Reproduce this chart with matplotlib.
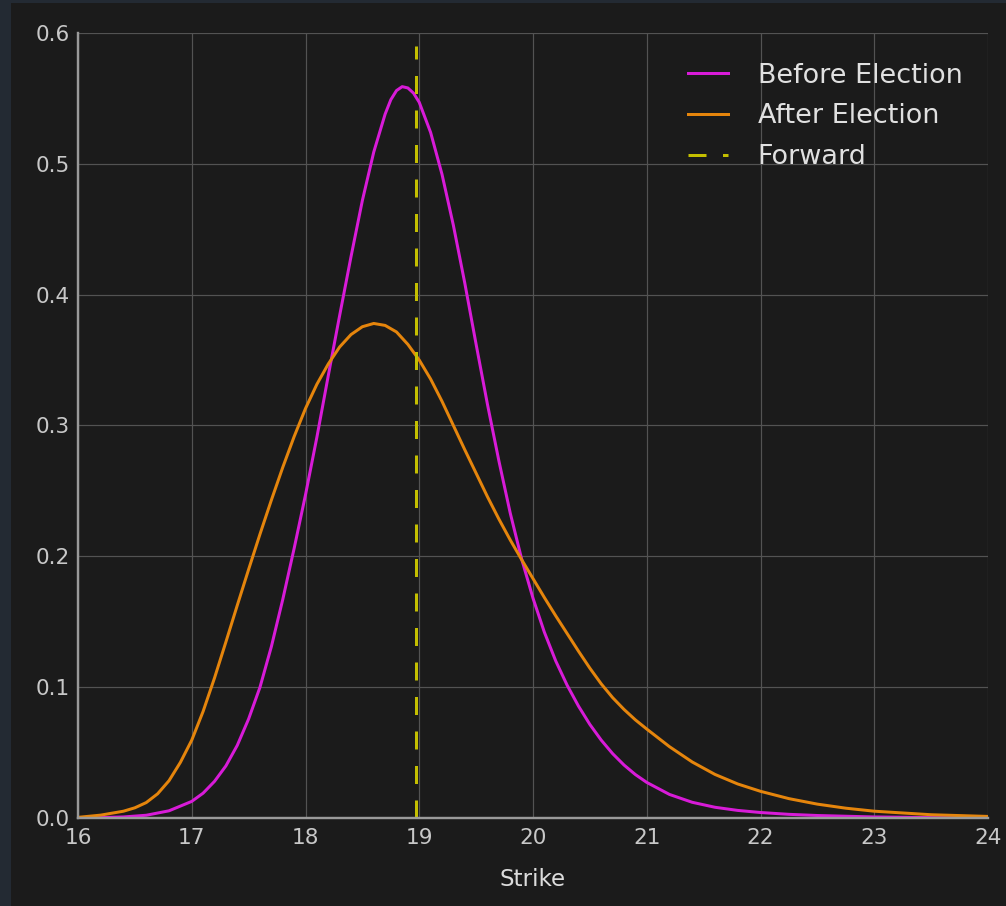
import numpy as np
import matplotlib.pyplot as plt
from matplotlib.patches import Rectangle

# strike grid and implied densities
strike_before = [16.0, 16.2, 16.4, 16.6, 16.8, 17.0, 17.1, 17.2, 17.3, 17.4, 17.5,
                 17.6, 17.7, 17.8, 17.9, 18.0, 18.1, 18.2, 18.3, 18.4, 18.5, 18.6,
                 18.7, 18.75, 18.8, 18.85, 18.9, 18.95, 19.0, 19.1, 19.2, 19.3, 19.4,
                 19.5, 19.6, 19.7, 19.8, 19.9, 20.0, 20.1, 20.2, 20.3, 20.4, 20.5,
                 20.6, 20.7, 20.8, 20.9, 21.0, 21.2, 21.4, 21.6, 21.8, 22.0, 22.25,
                 22.5, 23.0, 23.5, 24.0]
density_before = [0.0, 0.0003, 0.0008, 0.0021, 0.0055, 0.0127, 0.0190, 0.0280,
                  0.0398, 0.0555, 0.0757, 0.1000, 0.1310, 0.1670, 0.2060, 0.2470,
                  0.2910, 0.3380, 0.3840, 0.4290, 0.4720, 0.5090, 0.5380, 0.5490,
                  0.5560, 0.5590, 0.5580, 0.5540, 0.5470, 0.5240, 0.4920, 0.4530,
                  0.4090, 0.3620, 0.3160, 0.2730, 0.2330, 0.1980, 0.1680, 0.1420,
                  0.1200, 0.1015, 0.0855, 0.0715, 0.0595, 0.0492, 0.0405, 0.0332,
                  0.0272, 0.0180, 0.0120, 0.0082, 0.0058, 0.0042, 0.0028, 0.0019,
                  0.0008, 0.0003, 0.0001]

strike_after = [16.0, 16.2, 16.4, 16.5, 16.6, 16.7, 16.8, 16.9, 17.0, 17.1, 17.2,
                17.3, 17.4, 17.5, 17.6, 17.7, 17.8, 17.9, 18.0, 18.1, 18.2, 18.3,
                18.4, 18.5, 18.6, 18.7, 18.8, 18.9, 19.0, 19.1, 19.2, 19.3, 19.4,
                19.5, 19.6, 19.7, 19.8, 19.9, 20.0, 20.1, 20.2, 20.3, 20.4, 20.5,
                20.6, 20.7, 20.8, 20.9, 21.0, 21.2, 21.4, 21.6, 21.8, 22.0, 22.25,
                22.5, 22.75, 23.0, 23.5, 24.0]
density_after = [0.0005, 0.0022, 0.0052, 0.0078, 0.0118, 0.0185, 0.0285, 0.0425,
                 0.0595, 0.0815, 0.1070, 0.1345, 0.1625, 0.1900, 0.2170, 0.2430,
                 0.2680, 0.2915, 0.3130, 0.3315, 0.3470, 0.3600, 0.3695, 0.3755,
                 0.3780, 0.3765, 0.3715, 0.3620, 0.3500, 0.3355, 0.3185, 0.3000,
                 0.2815, 0.2635, 0.2455, 0.2285, 0.2125, 0.1975, 0.1830, 0.1685,
                 0.1545, 0.1410, 0.1275, 0.1145, 0.1025, 0.0920, 0.0830, 0.0750,
                 0.0680, 0.0545, 0.0428, 0.0333, 0.0260, 0.0204, 0.0148, 0.0106,
                 0.0075, 0.0052, 0.0025, 0.0012]

forward = 18.97
forward_top = 0.59

bg = '#1b1b1b'
fig = plt.figure(figsize=(1006 / 144, 906 / 144), dpi=144, facecolor=bg)
# dark slate frame on the left / top edge of the screenshot
fig.patches.append(Rectangle((0, 0), 11 / 1006, 1, transform=fig.transFigure,
                             facecolor='#232a33', edgecolor='none'))
fig.patches.append(Rectangle((0, 1 - 3 / 906), 1, 3 / 906, transform=fig.transFigure,
                             facecolor='#232a33', edgecolor='none'))

ax = fig.add_axes([78 / 1006, 1 - 818 / 906, 910 / 1006, 785 / 906], facecolor=bg)

ax.plot(strike_before, density_before, color='#d81bd8', lw=1.5, label='Before Election')
ax.plot(strike_after, density_after, color='#e5850c', lw=1.5, label='After Election')
ax.plot([forward, forward], [0, forward_top], color='#c4bf00', lw=1.5,
        dashes=(6, 5.5), label='Forward')

ax.set_xlim(16, 24)
ax.set_ylim(0, 0.6)
ax.set_xticks(np.arange(16, 25, 1))
ax.set_yticks(np.arange(0, 0.61, 0.1))
ax.set_yticklabels([f'{v:.1f}' for v in np.arange(0, 0.61, 0.1)])
ax.grid(True, color='#535353', lw=0.6)
ax.set_axisbelow(True)

for s in ['top', 'right']:
    ax.spines[s].set_visible(False)
for s in ['left', 'bottom']:
    ax.spines[s].set_color('#9a9a9a')
    ax.spines[s].set_linewidth(1.2)

ax.tick_params(axis='both', length=0, labelsize=10.8, colors='#c8c8c8')
ax.tick_params(axis='y', pad=4)
ax.tick_params(axis='x', pad=5)
ax.set_xlabel('Strike', fontsize=11.5, color='#dcdcdc', labelpad=10)

leg = ax.legend(loc='upper right', frameon=False, fontsize=13.5, handlelength=1.48,
                handletextpad=1.1, labelspacing=0.55, borderaxespad=0.55,
                bbox_to_anchor=(1.0, 0.995))
for t in leg.get_texts():
    t.set_color('#e0e0e0')

plt.savefig('out.png', dpi=144, facecolor=bg)
